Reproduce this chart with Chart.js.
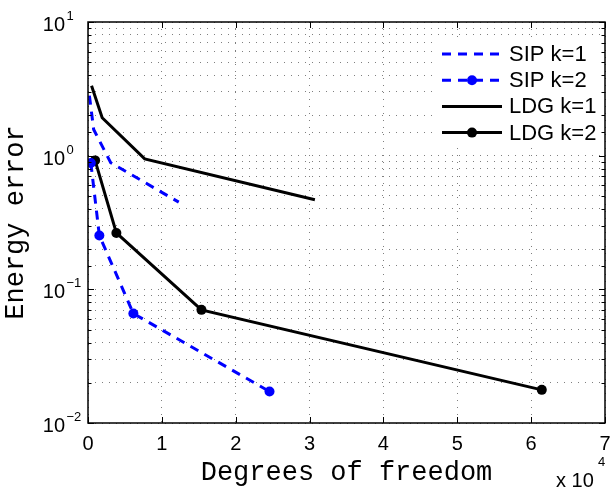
<!DOCTYPE html>
<html>
<head>
<meta charset="utf-8">
<script src="https://cdn.jsdelivr.net/npm/chart.js@4.4.0/dist/chart.umd.min.js"></script>
<style>
  html, body { margin: 0; padding: 0; background: #fff; }
  #wrap { width: 610px; height: 491px; }
</style>
</head>
<body>
<div id="wrap"><canvas id="errorChart" width="610" height="491"></canvas></div>
<script>
// Degrees of freedom per refinement level
const sipK1Dofs = [192, 768, 3072, 12288];
const sipK2Dofs = [384, 1536, 6144, 24576];
const ldgK1Dofs = [480, 1920, 7680, 30720];
const ldgK2Dofs = [960, 3840, 15360, 61440];

// Energy error
const sipK1Err = [2.81, 1.57, 0.886, 0.449];
const sipK2Err = [0.882, 0.253, 0.0659, 0.0172];
const ldgK1Err = [3.34, 1.92, 0.945, 0.468];
const ldgK2Err = [0.922, 0.264, 0.0702, 0.0177];

const seriesLabels = ['SIP k=1', 'SIP k=2', 'LDG k=1', 'LDG k=2'];

// Axis ticks
const xTickValues = [0, 10000, 20000, 30000, 40000, 50000, 60000, 70000];
const xTickLabels = ['0', '1', '2', '3', '4', '5', '6', '7'];
const yTickValues = [10, 1, 0.1, 0.01];
const yTickExponents = ['1', '0', '\u22121', '\u22122'];

const BLUE = '#0000ff';
const BLACK = '#000000';
const SANS = '"Liberation Sans", Arial, Helvetica, sans-serif';
const MONO = '"Liberation Mono", "DejaVu Sans Mono", monospace';

function toPoints(xs, ys) {
    return xs.map((x, i) => ({ x: x, y: ys[i] }));
}

// MATLAB style box, inward ticks, labels and legend
const matlabAxes = {
    id: 'matlabAxes',
    afterDatasetsDraw(chart) {
        const { ctx, chartArea: a, scales: { x, y } } = chart;
        ctx.save();

        // Legend
        ctx.fillStyle = '#fff';
        ctx.fillRect(433, 37, 172, 111);
        chart.data.datasets.forEach((ds, i) => {
            const ry = 54 + i * 26.2;
            ctx.strokeStyle = ds.borderColor;
            ctx.lineWidth = ds.borderWidth;
            ctx.setLineDash(ds.borderDash || []);
            ctx.beginPath();
            ctx.moveTo(442, ry);
            ctx.lineTo(502, ry);
            ctx.stroke();
            ctx.setLineDash([]);
            if (ds.pointRadius > 0) {
                ctx.fillStyle = ds.pointBackgroundColor;
                ctx.beginPath();
                ctx.arc(472, ry, ds.pointRadius, 0, Math.PI * 2);
                ctx.fill();
            }
            ctx.fillStyle = '#000';
            ctx.font = '22px ' + SANS;
            ctx.textAlign = 'left';
            ctx.textBaseline = 'middle';
            ctx.fillText(ds.label, 509, ry + 1);
        });

        // Frame
        ctx.strokeStyle = '#000';
        ctx.lineWidth = 1.5;
        ctx.strokeRect(a.left, a.top, a.right - a.left, a.bottom - a.top);

        // Inward ticks
        ctx.lineWidth = 1;
        ctx.beginPath();
        xTickValues.forEach(v => {
            const px = Math.round(x.getPixelForValue(v)) + 0.5;
            ctx.moveTo(px, a.bottom);
            ctx.lineTo(px, a.bottom - 6);
            ctx.moveTo(px, a.top);
            ctx.lineTo(px, a.top + 6);
        });
        y.ticks.forEach(t => {
            const py = Math.round(y.getPixelForValue(t.value)) + 0.5;
            const major = yTickValues.some(v => Math.abs(v - t.value) < 1e-9);
            const len = major ? 6 : 3.5;
            ctx.moveTo(a.left, py);
            ctx.lineTo(a.left + len, py);
            ctx.moveTo(a.right, py);
            ctx.lineTo(a.right - len, py);
        });
        ctx.stroke();

        // X tick labels
        ctx.fillStyle = '#000';
        ctx.font = '20px ' + SANS;
        ctx.textAlign = 'center';
        ctx.textBaseline = 'alphabetic';
        xTickValues.forEach((v, i) => {
            ctx.fillText(xTickLabels[i], x.getPixelForValue(v), a.bottom + 27);
        });

        // Y tick labels: 10 with superscript exponent
        yTickValues.forEach((v, i) => {
            const py = y.getPixelForValue(v);
            ctx.font = '20px ' + SANS;
            ctx.textAlign = 'right';
            ctx.fillText('10', 65, py + 9);
            ctx.font = '13px ' + SANS;
            ctx.textAlign = 'left';
            ctx.fillText(yTickExponents[i], 66.5, py - 2);
        });

        // Scale factor
        ctx.font = '20px ' + SANS;
        ctx.textAlign = 'left';
        ctx.fillText('x 10', 556, 487);
        ctx.font = '13px ' + SANS;
        ctx.fillText('4', 598, 466);

        // Axis titles
        ctx.font = '27px ' + MONO;
        ctx.textAlign = 'center';
        ctx.fillText('Degrees of freedom', (a.left + a.right) / 2, 480);
        ctx.save();
        ctx.translate(23, (a.top + a.bottom) / 2);
        ctx.rotate(-Math.PI / 2);
        ctx.fillText('Energy error', 0, 0);
        ctx.restore();

        ctx.restore();
    }
};

const gridStyle = {
    color: 'rgba(0,0,0,0.5)',
    lineWidth: 1,
    drawTicks: false
};

new Chart(document.getElementById('errorChart'), {
    type: 'line',
    data: {
        datasets: [{
            label: seriesLabels[0],
            data: toPoints(sipK1Dofs, sipK1Err),
            borderColor: BLUE,
            borderWidth: 3,
            borderDash: [9, 7],
            pointRadius: 0,
            pointBackgroundColor: BLUE
        }, {
            label: seriesLabels[1],
            data: toPoints(sipK2Dofs, sipK2Err),
            borderColor: BLUE,
            borderWidth: 3,
            borderDash: [9, 7],
            pointRadius: 5,
            pointBorderWidth: 0,
            pointBackgroundColor: BLUE
        }, {
            label: seriesLabels[2],
            data: toPoints(ldgK1Dofs, ldgK1Err),
            borderColor: BLACK,
            borderWidth: 3,
            pointRadius: 0,
            pointBackgroundColor: BLACK
        }, {
            label: seriesLabels[3],
            data: toPoints(ldgK2Dofs, ldgK2Err),
            borderColor: BLACK,
            borderWidth: 3,
            pointRadius: 5,
            pointBorderWidth: 0,
            pointBackgroundColor: BLACK
        }]
    },
    options: {
        responsive: false,
        animation: false,
        layout: {
            padding: { left: 88, top: 22, right: 3, bottom: 68 }
        },
        elements: {
            line: { tension: 0, fill: false }
        },
        scales: {
            x: {
                type: 'linear',
                min: 0,
                max: 70000,
                ticks: { display: false, stepSize: 10000 },
                grid: gridStyle,
                border: { display: false, dash: [1, 6] },
                afterFit: function(scale) { scale.height = 0; }
            },
            y: {
                type: 'logarithmic',
                min: 0.01,
                max: 10,
                ticks: { display: false },
                grid: gridStyle,
                border: { display: false, dash: [1, 6] },
                afterFit: function(scale) { scale.width = 0; }
            }
        },
        plugins: {
            legend: { display: false },
            tooltip: { enabled: false }
        }
    },
    plugins: [matlabAxes]
});
</script>
</body>
</html>
